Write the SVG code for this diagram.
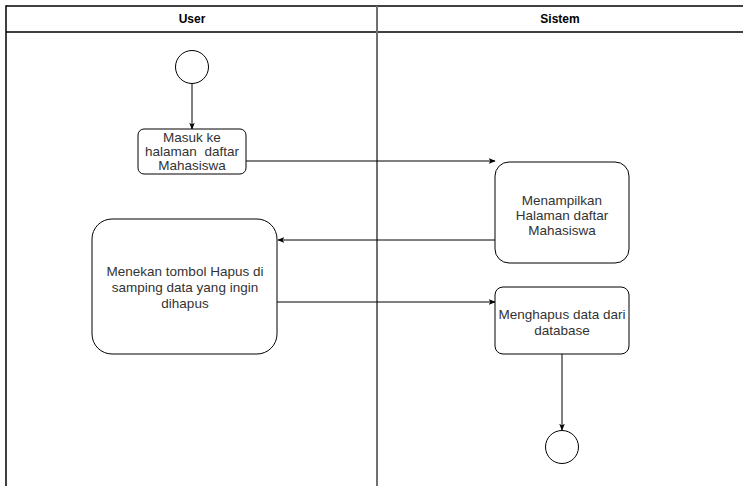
<svg xmlns="http://www.w3.org/2000/svg" width="743" height="486" viewBox="0 0 743 486">
<defs>
<style>
.lane{fill:none;stroke:#000;stroke-width:1.5}
.div{stroke:#707070;stroke-width:2}
.hd{font-family:"Liberation Sans",Arial,sans-serif;font-size:12px;font-weight:bold;fill:#000;text-anchor:middle}
.node{fill:#fff;stroke:#000;stroke-width:1}
.t{font-family:"Liberation Sans",Arial,sans-serif;font-size:13.5px;fill:#333;text-anchor:middle}
.edge{fill:none;stroke:#000;stroke-width:1}
</style>
<marker id="arr" viewBox="0 0 10 10" refX="9" refY="5" markerWidth="7" markerHeight="7" orient="auto" markerUnits="userSpaceOnUse">
<path d="M0,1 L10,5 L0,9 L2.5,5 Z" fill="#000"/>
</marker>
</defs>
<rect width="743" height="486" fill="#fff"/>
<g id="pool">
<line class="lane" x1="6" y1="6" x2="743" y2="6"/>
<line class="lane" x1="6" y1="32" x2="743" y2="32"/>
<line class="lane" x1="6" y1="5.3" x2="6" y2="486"/>
<line class="div" x1="377" y1="6" x2="377" y2="486"/>
<text class="hd" x="192" y="23">User</text>
<text class="hd" x="560" y="23">Sistem</text>
</g>
<g id="connectors">
<path class="edge" d="M192,84 L192,129" marker-end="url(#arr)"/>
<path class="edge" d="M246,161 L495,161" marker-end="url(#arr)"/>
<path class="edge" d="M495,240 L278,240" marker-end="url(#arr)"/>
<path class="edge" d="M277,302 L495,302" marker-end="url(#arr)"/>
<path class="edge" d="M562,354 L562,430" marker-end="url(#arr)"/>
</g>
<g id="start"><circle class="node" cx="192" cy="67" r="16.5"/></g>
<g id="masuk">
<rect class="node" x="138" y="129" width="108" height="45" rx="6"/>
<text class="t" x="192" y="142">Masuk ke</text>
<text class="t" x="192" y="156" xml:space="preserve">halaman  daftar</text>
<text class="t" x="192" y="170">Mahasiswa</text>
</g>
<g id="menampilkan">
<rect class="node" x="495" y="162" width="134" height="101" rx="14"/>
<text class="t" x="562" y="205">Menampilkan</text>
<text class="t" x="562" y="220">Halaman daftar</text>
<text class="t" x="562" y="235">Mahasiswa</text>
</g>
<g id="menekan">
<rect class="node" x="92" y="219" width="185" height="135" rx="20"/>
<text class="t" x="185" y="276">Menekan tombol Hapus di</text>
<text class="t" x="185" y="292">samping data yang ingin</text>
<text class="t" x="185" y="308">dihapus</text>
</g>
<g id="menghapus">
<rect class="node" x="495" y="287" width="134" height="67" rx="8"/>
<text class="t" x="562" y="319">Menghapus data dari</text>
<text class="t" x="562" y="335">database</text>
</g>
<g id="end"><circle class="node" cx="562" cy="447" r="16.5"/></g>
</svg>
